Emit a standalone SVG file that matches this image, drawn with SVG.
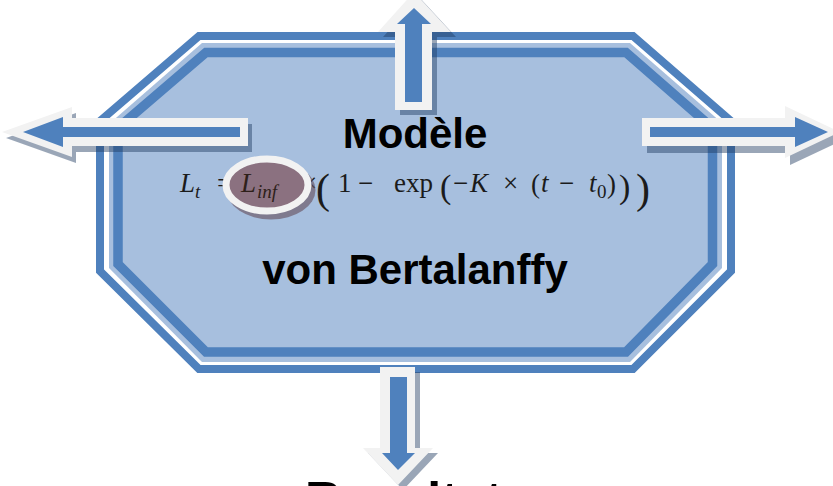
<svg xmlns="http://www.w3.org/2000/svg" width="833" height="486" viewBox="0 0 833 486">
<defs>
<style>
.band{fill:none;stroke:#4F81BD;stroke-linejoin:miter}
.fillshape{fill:#A7BFDE}
.aw{fill:#F2F2F2}
.ab{fill:#4F81BD}
.sh{fill:#1F3A5F;opacity:0.45}
.title{font-family:"Liberation Sans",Arial,sans-serif;font-weight:bold;font-size:42px;fill:#000;text-anchor:middle}
.m{font-family:"Liberation Serif","Times New Roman",serif;font-size:27px;fill:#1b1b1b}
.mi{font-style:italic}
.sub{font-size:19px}
.p2{font-size:34px}
.p3{font-size:42px}
.hl{fill:#2e1f1a}
</style>
</defs>
<rect width="833" height="486" fill="#FFFFFF"/>

<g id="node-results">
<text x="305" y="517" font-family="Liberation Sans, Arial, sans-serif" font-weight="bold" font-size="50" fill="#000">Resultats</text>
</g>

<g id="node-model">
<polygon class="band" stroke-width="8" points="199,36 633,36 731,121 731,271 633,369 199,369 100,271 100,121"/>
<polygon class="fillshape" points="202,43 630,43 722,123 722,268 630,362 202,362 109,268 109,124"/>
<polygon class="band" stroke-width="9.5" points="206,52.5 626,52.5 712.5,128 712.5,264 626,352 206,352 118,264 118,128"/>
<text class="title" x="415" y="148">Modèle</text>
<text class="title" x="415" y="284">von Bertalanffy</text>
<g id="formula">
<text class="m mi" x="180" y="192">L</text>
<text class="m mi sub" x="195" y="198">t</text>
<text class="m" x="217" y="192">=</text>
<text class="m" x="302" y="192">×</text>
<text class="m p3" x="316" y="203">(</text>
<text class="m" x="338" y="192">1</text>
<text class="m" x="358" y="192">−</text>
<text class="m" x="394" y="192">exp</text>
<text class="m p2" x="440" y="198">(</text>
<text class="m" x="453" y="192">−</text>
<text class="m mi" x="470" y="192">K</text>
<text class="m" x="503" y="192">×</text>
<text class="m" x="531" y="193">(</text>
<text class="m mi" x="541" y="192">t</text>
<text class="m" x="559" y="192">−</text>
<text class="m mi" x="589" y="192">t</text>
<text class="m sub" x="597" y="198">0</text>
<text class="m" x="607" y="193">)</text>
<text class="m p2" x="619" y="198">)</text>
<text class="m p3" x="636" y="203">)</text>
</g>
<g id="highlight">
<ellipse cx="271" cy="190" rx="44.5" ry="29.5" fill="#6a5563" opacity="0.65"/>
<ellipse cx="267" cy="185" rx="41" ry="26" fill="#8B7180" stroke="#F2F2F2" stroke-width="7"/>
<text class="m mi hl" x="241" y="192">L</text>
<text class="m mi sub hl" x="257" y="198">inf</text>
</g>
</g>

<g id="connectors">
<g id="arrow-left">
<polygon class="sh" transform="translate(4,6)" points="248,118 72,118 72,107 2,132 72,157 72,146 248,146"/>
<polygon class="aw" points="248,118 72,118 72,107 2,132 72,157 72,146 248,146"/>
<polygon class="ab" points="240,127 63,127 63,117 23,132 63,147 63,137 240,137"/>
</g>
<g id="arrow-right">
<polygon class="sh" transform="translate(5,7)" points="642,118 785,118 785,106 840,132 785,158 785,146 642,146"/>
<polygon class="aw" points="642,118 785,118 785,106 840,132 785,158 785,146 642,146"/>
<polygon class="ab" points="650,127 795,127 795,117 828,132 795,147 795,137 650,137"/>
</g>
<g id="arrow-up">
<polygon class="sh" transform="translate(5,5)" points="395,110 395,32 378,32 414,-8 451,32 432,32 432,110"/>
<polygon class="aw" points="395,110 395,32 378,32 414,-8 451,32 432,32 432,110"/>
<polygon class="ab" points="405,102 405,24 397,24 414,8 431,24 422,24 422,102"/>
</g>
<g id="arrow-down">
<polygon class="sh" transform="translate(5,5)" points="380,367 415,367 415,448 433,448 398,485 363,448 380,448"/>
<polygon class="aw" points="380,367 415,367 415,448 433,448 398,485 363,448 380,448"/>
<polygon class="ab" points="390,377 407,377 407,453 415,453 398,470 382,453 390,453"/>
</g>
</g>
</svg>
